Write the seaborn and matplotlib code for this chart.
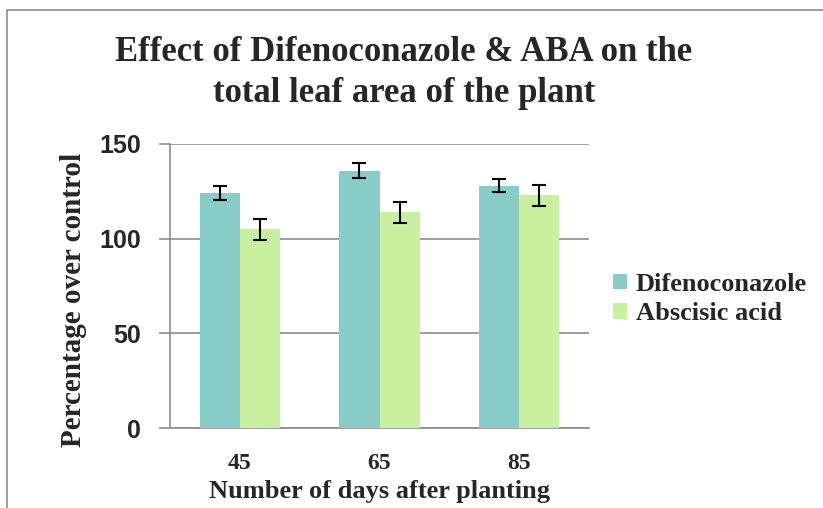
import pandas as pd
import numpy as np
import matplotlib
matplotlib.use('Agg')
import matplotlib.pyplot as plt
import seaborn as sns

# values
days = ['45', '65', '85']
difenoconazole = [124, 136, 128]
difenoconazole_err = [3.7, 3.8, 3.6]
abscisic_acid = [105, 114, 123]
abscisic_acid_err = [5.5, 5.5, 5.5]
treatments = ['Difenoconazole', 'Abscisic acid']

data = pd.DataFrame({
    'Day': days * 2,
    'Treatment': [treatments[0]] * 3 + [treatments[1]] * 3,
    'Value': difenoconazole + abscisic_acid,
    'Err': difenoconazole_err + abscisic_acid_err,
})

sns.set_style('white')
serif = ['Liberation Serif', 'DejaVu Serif']
sans = ['Liberation Sans', 'DejaVu Sans']

fig = plt.figure(figsize=(8.23, 5.08), dpi=100)
ax = fig.add_axes([170/823, 1-428/508, 419/823, 284/508])

colors = ['#88CBC7', '#C9EFA1']
sns.barplot(data=data, x='Day', y='Value', hue='Treatment', hue_order=treatments,
            order=days, palette=colors, width=0.573, errorbar=None,
            linewidth=0, saturation=1, ax=ax, zorder=3)
ax.set_xlim(-0.5, len(days) - 0.5)

# error bars on each bar (patches come in hue order, then category order)
for bar, (_, row) in zip(ax.patches, data.iterrows()):
    cx = bar.get_x() + bar.get_width() / 2
    ax.errorbar(cx, bar.get_height(), yerr=row['Err'], fmt='none',
                ecolor='black', elinewidth=1.5, capsize=4.7, capthick=1.5, zorder=4)

ax.set_ylim(0, 150)
ax.set_yticks([0, 50, 100, 150])
ax.yaxis.grid(True, color='#8c8c8c', linewidth=1.2, zorder=0)
ax.set_axisbelow(True)
for s in ['top', 'right']:
    ax.spines[s].set_visible(False)
ax.spines['left'].set_color('#8c8c8c')
ax.spines['left'].set_linewidth(1.2)
ax.spines['bottom'].set_color('#8c8c8c')
ax.spines['bottom'].set_linewidth(1.2)
ax.tick_params(axis='y', direction='out', length=8, width=1.2, color='#8c8c8c', pad=13, left=True)
ax.tick_params(axis='x', length=0, pad=18)

for t in ax.get_yticklabels():
    t.set_family(sans)
    t.set_fontweight('bold')
    t.set_fontsize(18)
for t in ax.get_xticklabels():
    t.set_family(serif)
    t.set_fontweight('bold')
    t.set_fontsize(17)

ax.set_xlabel('Number of days after planting', family=serif, fontweight='bold', fontsize=19, labelpad=4)
ax.set_ylabel('Percentage over control', family=serif, fontweight='bold', fontsize=21)
ax.yaxis.set_label_coords(-0.198, 0.45)

fig.text(404/823, 1-73/508, 'Effect of Difenoconazole & ABA on the\ntotal leaf area of the plant',
         ha='center', va='center', family=serif, fontweight='bold', fontsize=25, linespacing=1.3)

handles, labels = ax.get_legend_handles_labels()
ax.legend(handles, labels, loc='center left', bbox_to_anchor=(589/823, 1-299/508),
          bbox_transform=fig.transFigure, frameon=False,
          prop={'family': serif, 'weight': 'bold', 'size': 19},
          handlelength=0.53, handleheight=0.53, handletextpad=0.35, labelspacing=0.25)

# outer chart frame
fig.patches.append(plt.Rectangle((7/823, -0.1), 1.0, 1-10/508+0.1, transform=fig.transFigure,
                                 fill=False, edgecolor='#8c8c8c', linewidth=1.2))

fig.savefig('out.png', dpi=100)
